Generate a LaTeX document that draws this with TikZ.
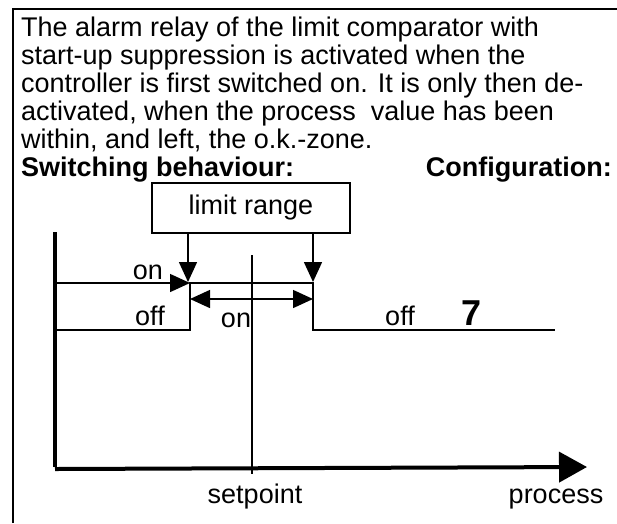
\documentclass[tikz,border=0pt]{standalone}
\usepackage{fontspec}
\setmainfont{Liberation Sans}
\setsansfont{Liberation Sans}
\usetikzlibrary{arrows.meta,calc}
\definecolor{ink}{HTML}{000000}

\begin{document}
\begin{tikzpicture}[x=1pt,y=-1pt,font=\sffamily\fontsize{27}{28}\selectfont,text=ink,
    tip/.style={-{Triangle[length=20pt,width=18pt]}},
    lbl/.style={inner sep=0pt,anchor=base}]
  \useasboundingbox (0,0) rectangle (617,523);
  \draw[line width=2pt] (13,523) -- (13,9) -- (617,9);

  % description text
  \node[lbl,anchor=base west] (t1) at (21,36) {The alarm relay of the limit comparator with};
  \node[lbl,anchor=base west] (t2) at (21,64) {start-up suppression is activated when the};
  \node[lbl,anchor=base west] (t3) at (21,92) {controller is first switched on. It is only then de-};
  \node[lbl,anchor=base west] (t4) at (21,120) {activated, when the process\ \ value has been};
  \node[lbl,anchor=base west] (t5) at (21,148) {within, and left, the o.k.-zone.};
  \node[lbl,anchor=base west,font=\sffamily\bfseries\fontsize{27}{28}\selectfont] (sw) at (21,176) {Switching behaviour:};
  \node[lbl,anchor=base east,font=\sffamily\bfseries\fontsize{27}{28}\selectfont] (cf) at (612,176) {Configuration:};

  % limit range box
  \node[draw,line width=1.2pt,minimum width=198pt,minimum height=50pt,inner sep=0pt] (lim) at (251,208) {limit range};
  \coordinate (ta) at (188,282);
  \coordinate (tb) at (313,282);
  \draw[line width=1.5pt,tip] (lim.south -| ta) -- (ta);
  \draw[line width=1.5pt,tip] (lim.south -| tb) -- (tb);

  % axes
  \coordinate (O) at (55,467);
  \coordinate (ytop) at (55,232);
  \coordinate (xend) at (587,467);
  \draw[line width=4pt] (O) -- (ytop);
  \draw[line width=4pt,-{Triangle[length=28pt,width=30pt]}] ($(O)+(0,2)$) -- (xend);
  \coordinate (sp) at (252,255);
  \draw[line width=1.5pt] (sp) -- (252,474);

  % switching levels
  \coordinate (a1) at (190,283);
  \coordinate (a2) at (313,283);
  \coordinate (b1) at (190,330);
  \coordinate (b2) at (313,330);
  \draw[line width=1.5pt,tip] (ytop |- a1) -- (a1);
  \draw[line width=1.5pt] (ytop |- b1) -- (b1) -- (a1) -- (a2) -- (b2) -- (555,330);
  \draw[line width=1.5pt,{Triangle[length=20pt,width=18pt]}-{Triangle[length=20pt,width=18pt]}] ($(a1)+(0,16)$) -- ($(a2)+(0,16)$);

  % labels
  \node[lbl] (on1) at (148,279) {on};
  \node[lbl] (off1) at (150,325) {off};
  \node[lbl] (on2) at (236,327) {on};
  \node[lbl] (off2) at (400,325) {off};
  \node[lbl,font=\sffamily\bfseries\fontsize{36}{38}\selectfont] (cfg) at (472,325) {7};
  \node[lbl] (spl) at (255,503) {setpoint};
  \node[lbl] (prl) at (556,503) {process};
\end{tikzpicture}
\end{document}
